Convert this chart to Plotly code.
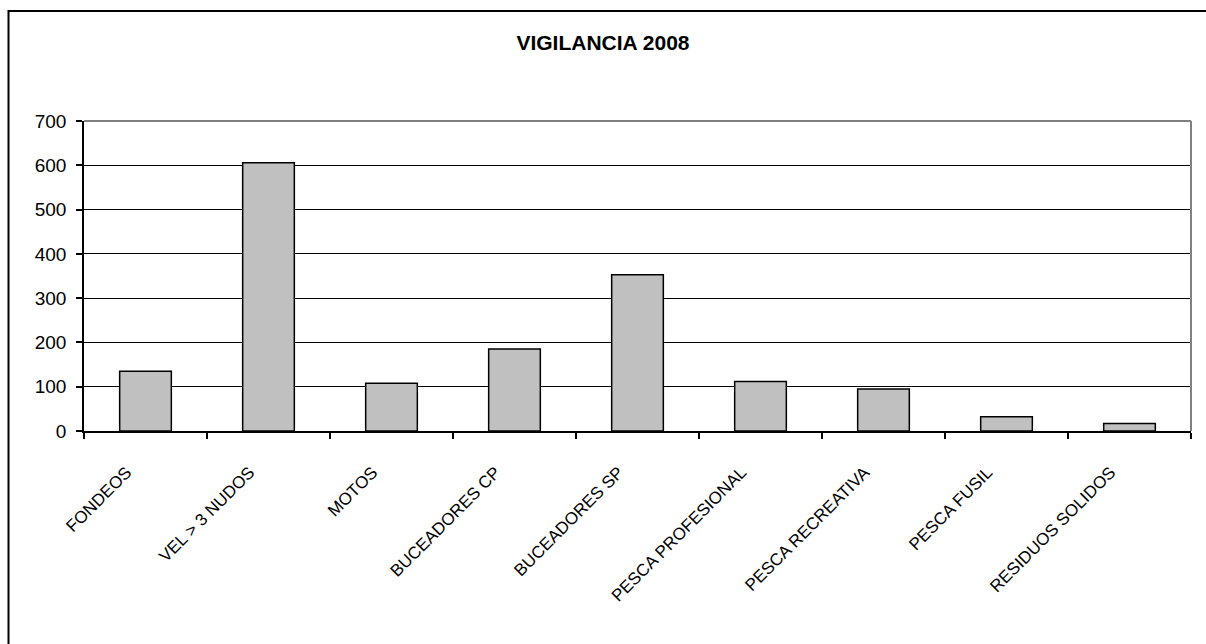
import plotly.graph_objects as go

categories = ["FONDEOS", "VEL > 3 NUDOS", "MOTOS", "BUCEADORES CP", "BUCEADORES SP",
              "PESCA PROFESIONAL", "PESCA RECREATIVA", "PESCA FUSIL", "RESIDUOS SOLIDOS"]
values = [135, 606, 108, 185, 353, 112, 95, 32, 17]
y_ticks = [0, 100, 200, 300, 400, 500, 600, 700]

W, H = 1206, 644
ML, MR, MT, MB = 84, 15, 121, 213
pw = W - ML - MR
ph = H - MT - MB
FONT = "Liberation Sans, Arial, sans-serif"

fig = go.Figure(go.Bar(
    x=categories, y=values,
    marker=dict(color="#C0C0C0", line=dict(color="black", width=1.5)),
))

def px_to_paper_x(px):
    return (px - ML) / pw

def px_to_paper_y(py):
    return (H - MB - py) / ph

shapes = [
    dict(type="rect", xref="paper", yref="paper",
         x0=px_to_paper_x(8.5), x1=px_to_paper_x(W + 20),
         y0=px_to_paper_y(H + 20), y1=px_to_paper_y(11),
         line=dict(color="black", width=2), fillcolor="rgba(0,0,0,0)", layer="above"),
    dict(type="line", xref="paper", yref="paper", x0=0, x1=1, y0=1, y1=1,
         line=dict(color="#808080", width=2), layer="above"),
    dict(type="line", xref="paper", yref="paper", x0=1, x1=1, y0=0, y1=1,
         line=dict(color="#808080", width=2), layer="above"),
]

fig.update_layout(
    width=W, height=H,
    margin=dict(l=ML, r=MR, t=MT, b=MB, pad=0),
    paper_bgcolor="white", plot_bgcolor="white",
    bargap=0.58,
    showlegend=False,
    title=dict(text="<b>VIGILANCIA 2008</b>", x=0.5, xref="container", xanchor="center",
               y=1 - 43 / H, yref="container", yanchor="middle",
               font=dict(family=FONT, size=21, color="black")),
    font=dict(family=FONT, color="black"),
    shapes=shapes,
    xaxis=dict(
        type="category", tickangle=-45, tickson="boundaries",
        ticks="outside", ticklen=6, tickcolor="black", tickwidth=1.5,
        showline=True, linecolor="black", linewidth=1.5,
        showgrid=False, tickfont=dict(size=17, family=FONT),
        ticklabelshift=-19, ticklabelstandoff=23,
    ),
    yaxis=dict(
        range=[0, 700], tickvals=y_ticks,
        ticks="outside", ticklen=6, tickcolor="black", tickwidth=1.5,
        showline=True, linecolor="black", linewidth=1.5,
        showgrid=True, gridcolor="black", gridwidth=1.2,
        zeroline=False, tickfont=dict(size=19, family=FONT),
        ticklabelstandoff=6,
    ),
)

fig.write_html("out.html", config={"displayModeBar": False},
               post_script="document.body.style.margin='0';document.body.style.overflow='hidden';")
